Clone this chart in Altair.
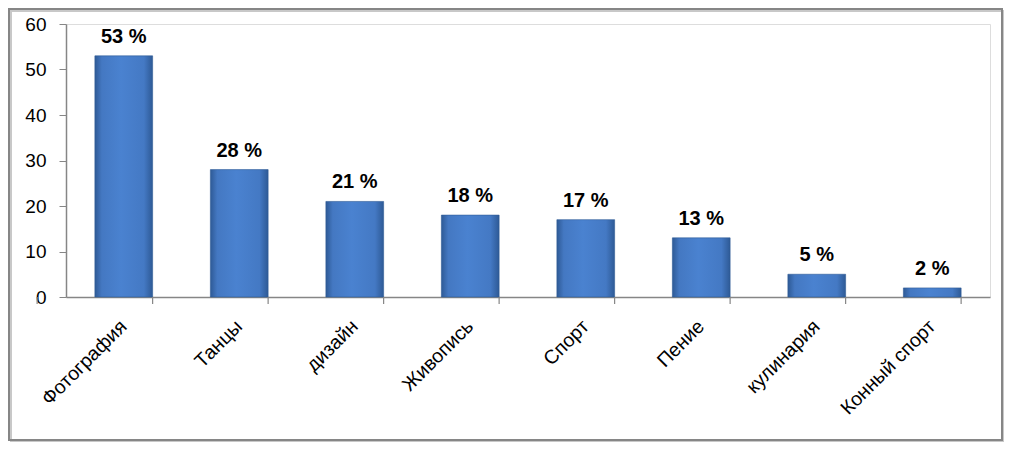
import altair as alt
import pandas as pd

categories = ["Фотография", "Танцы", "дизайн", "Живопись", "Спорт", "Пение", "кулинария", "Конный спорт"]
values = [53, 28, 21, 18, 17, 13, 5, 2]
labels = ["53 %", "28 %", "21 %", "18 %", "17 %", "13 %", "5 %", "2 %"]

df = pd.DataFrame({"cat": categories, "val": values, "lab": labels})

W, H = 924, 273
FONT = "Liberation Sans"

x_enc = alt.X("cat:N", sort=categories,
              scale=alt.Scale(paddingInner=0.5, paddingOuter=0.25),
              axis=alt.Axis(title=None, labelAngle=-45, labelFontSize=19.5, labelFont=FONT,
                            labelColor="#000000", ticks=False, domainColor="#868686",
                            domainWidth=1.5, labelPadding=26, labelAlign="right",
                            labelBaseline="middle"))
y_enc = alt.Y("val:Q", scale=alt.Scale(domain=[0, 60]),
              axis=alt.Axis(title=None, values=[0, 10, 20, 30, 40, 50, 60], grid=False,
                            labelFontSize=19, labelFont=FONT, labelColor="#000000",
                            tickColor="#868686", tickSize=7, domainColor="#868686",
                            domainWidth=1.5, labelPadding=13))

grad = alt.Gradient(
    gradient="linear", x1=0, x2=1, y1=0, y2=0,
    stops=[
        alt.GradientStop(color="#2E5A96", offset=0),
        alt.GradientStop(color="#4478C2", offset=0.12),
        alt.GradientStop(color="#4A82D0", offset=0.45),
        alt.GradientStop(color="#4479C4", offset=0.85),
        alt.GradientStop(color="#2E5A96", offset=1),
    ],
)

bars = alt.Chart(df).mark_bar(color=grad, stroke="#2D5A95", strokeWidth=0.6).encode(
    x=x_enc, y=y_enc
)

text = alt.Chart(df).mark_text(font=FONT, fontSize=20, fontWeight="bold", color="#000000",
                               baseline="bottom", dy=-9).encode(
    x=alt.X("cat:N", sort=categories), y="val:Q", text="lab:N"
)

xticks = alt.Chart(df).mark_rule(color="#868686", strokeWidth=1.2).encode(
    x=alt.X("cat:N", sort=categories), xOffset=alt.value(-W / 16),
    y=alt.value(H), y2=alt.value(H + 7)
)
last_tick = alt.Chart(df.tail(1)).mark_rule(color="#868686", strokeWidth=1.2).encode(
    x=alt.X("cat:N", sort=categories), xOffset=alt.value(W / 16),
    y=alt.value(H), y2=alt.value(H + 7)
)

border_shadow = alt.Chart(df.head(1)).mark_rect(fill=None, stroke="#C8C8C8", strokeWidth=2).encode(
    x=alt.value(-55), x2=alt.value(938), y=alt.value(-13), y2=alt.value(418)
)
border = alt.Chart(df.head(1)).mark_rect(fill=None, stroke="#868686", strokeWidth=2).encode(
    x=alt.value(-57), x2=alt.value(936), y=alt.value(-15), y2=alt.value(416)
)

chart = alt.layer(border_shadow, border, bars, text, xticks, last_tick).properties(
    width=W, height=H,
    autosize=alt.AutoSizeParams(type="none"),
    padding={"left": 58, "top": 16, "right": 14, "bottom": 145},
).configure_view(stroke=None).configure(background="#FFFFFF")

chart.save("out.html", embed_options={"renderer": "svg", "actions": False})
